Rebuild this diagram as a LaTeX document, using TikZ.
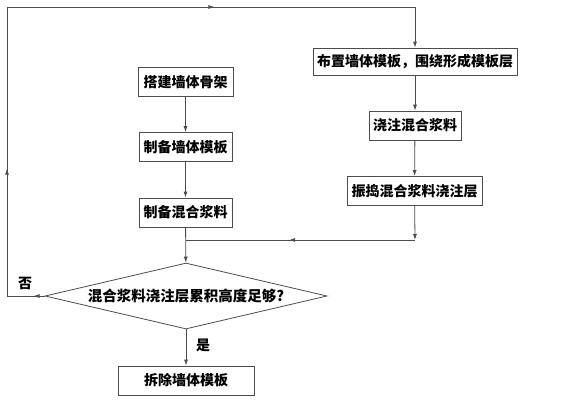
\documentclass[tikz,border=0pt]{standalone}
\usepackage{fontspec}
\newfontfamily\cjk{Noto Sans CJK SC}
\usetikzlibrary{arrows.meta,shapes.geometric,decorations.markings}
\tikzset{
  box/.style={draw=black!70, line width=0.8pt, inner sep=0pt, minimum height=29pt, font=\cjk\bfseries\fontsize{14}{14}\selectfont},
  lbl/.style={inner sep=0pt, font=\cjk\bfseries\fontsize{14}{14}\selectfont},
  line/.style={draw=black!70, line width=0.8pt},
  arr/.style={-{Latex[length=6pt,width=4pt]}},
  midarr/.style={postaction={decorate}, decoration={markings, mark=at position #1 with {\arrow{Latex[length=6pt,width=4pt]}}}}
}
\begin{document}
\begin{tikzpicture}[x=1pt, y=-1pt]
            \useasboundingbox (0,0) rectangle (564,400);
            % left column
            \node[box, minimum width=95pt] (frame) at (185.5,82) {搭建墙体骨架};
            \node[box, minimum width=93pt] (form) at (185.5,147) {制备墙体模板};
            \node[box, minimum width=93pt] (mix) at (185.5,212.5) {制备混合浆料};
            \node[draw=black!70, line width=0.8pt, shape=diamond, aspect=4.3, inner sep=0pt, minimum width=282pt, minimum height=66pt, font=\cjk\bfseries\fontsize{14.5}{14.5}\selectfont] (check) at (186,296) {混合浆料浇注层累积高度足够?};
            \node[box, minimum width=136pt] (remove) at (186,380.5) {拆除墙体模板};
            % right column
            \node[box, minimum width=204pt, minimum height=27pt] (lay) at (415,61.5) {布置墙体模板，围绕形成模板层};
            \node[box, minimum width=92pt] (pour) at (415,125.5) {浇注混合浆料};
            \node[box, minimum width=135pt] (vib) at (414.5,191) {振捣混合浆料浇注层};
            % corners
            \coordinate (join) at (186,240);
            \coordinate (jr) at (415,240);
            \coordinate (bl) at (7,296);
            \coordinate (tl) at (7,7);
            \coordinate (tr) at (415,7);
            % flow
            \draw[line, arr] (frame) -- (form);
            \draw[line, arr] (form) -- (mix);
            \draw[line, arr] (mix) -- (check);
            \draw[line, arr] (lay) -- (pour);
            \draw[line, arr] (pour) -- (vib);
            \draw[line, arr] (vib) -- (jr);
            \draw[line, midarr=0.55] (jr) -- (join);
            \draw[line, arr] (check) -- (remove);
            \node[lbl] (yes) at (203,345) {是};
            % loop back
            \draw[line, postaction={decorate}, decoration={markings,
                mark=at position 11pt with {\arrow{Latex[length=6pt,width=4pt]}},
                mark=at position 165pt with {\arrow{Latex[length=6pt,width=4pt]}},
                mark=at position 534pt with {\arrow{Latex[length=6pt,width=4pt]}}}]
              (check.west) -- (bl) -- (tl) -- (tr);
            \draw[line, arr] (tr) -- (lay);
            \node[lbl] (no) at (25,283) {否};
          \end{tikzpicture}
\end{document}
